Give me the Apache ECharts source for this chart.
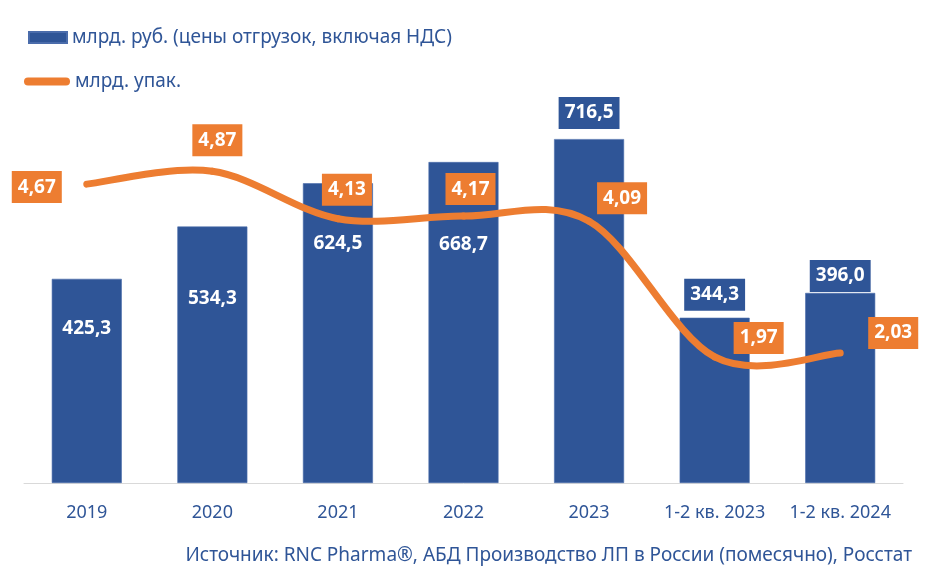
<!DOCTYPE html>
<html><head><meta charset="utf-8">
<script src="https://cdn.jsdelivr.net/npm/echarts@6/dist/echarts.min.js"></script>
<style>html,body{margin:0;padding:0;background:#fff}#c{width:936px;height:584px}</style>
</head><body><div id="c"></div>
<script>
const categories = ['2019','2020','2021','2022','2023','1-2 кв. 2023','1-2 кв. 2024'];
const rubValues = [425.3, 534.3, 624.5, 668.7, 716.5, 344.3, 396.0];
const packValues = [4.67, 4.87, 4.13, 4.17, 4.09, 1.97, 2.03];
const rubName = 'млрд. руб. (цены отгрузок, включая НДС)';
const packName = 'млрд. упак.';
const sourceText = 'Источник: RNC Pharma®, АБД Производство ЛП в России (помесячно), Росстат';

const BLUE = '#2F5597', ORANGE = '#ED7D31';
const FONT = '"Noto Sans", "Open Sans", sans-serif';
const fmt = v => v.toFixed(1).replace('.', ',');
const fmt2 = v => v.toFixed(2).replace('.', ',');

// label placement (style only)
const barLabelStyle = [
  {inside: true, dy: 50}, {inside: true, dy: 72}, {inside: true, dy: 60}, {inside: true, dy: 83},
  {inside: false, dy: -26}, {inside: false, dy: -23}, {inside: false, dy: -17}
];
const lineLabelOffsets = [[-50,3],[5,-31],[9,-29],[7,-27],[33,-23],[44,-19],[53,-20]];

const barData = rubValues.map((v, i) => {
  const s = barLabelStyle[i];
  return {
    value: v,
    label: {
      show: true,
      position: ['50%', s.dy],
      align: 'center', verticalAlign: 'middle',
      formatter: () => fmt(v),
      color: '#fff', fontSize: 19, fontWeight: 'bold', fontFamily: FONT,
      backgroundColor: s.inside ? 'transparent' : BLUE,
      padding: s.inside ? 0 : [4, 6, 4, 6],
      lineHeight: 24
    }
  };
});
const lineData = packValues.map((v, i) => ({
  value: v,
  label: {
    show: true, position: 'inside', align: 'center', verticalAlign: 'middle',
    offset: lineLabelOffsets[i],
    formatter: () => fmt2(v),
    color: '#fff', fontSize: 19, fontWeight: 'bold', fontFamily: FONT,
    backgroundColor: ORANGE, padding: [4, 6, 4, 6], lineHeight: 24
  }
}));

// Smooth curve (Excel-like Catmull-Rom Bezier) drawn through the chart's own coordinate system
function renderCurve(params, api) {
  const i = params.dataIndex;
  const n = packValues.length;
  if (i >= n - 1) return null;
  const P = k => api.coord([Math.max(0, Math.min(n - 1, k)), packValues[Math.max(0, Math.min(n - 1, k))]]);
  const p0 = P(i - 1), p1 = P(i), p2 = P(i + 1), p3 = P(i + 2);
  const t = 1 / 6;
  return {
    type: 'bezierCurve',
    shape: {
      x1: p1[0], y1: p1[1], x2: p2[0], y2: p2[1],
      cpx1: p1[0] + (p2[0] - p0[0]) * t, cpy1: p1[1] + (p2[1] - p0[1]) * t,
      cpx2: p2[0] - (p3[0] - p1[0]) * t, cpy2: p2[1] - (p3[1] - p1[1]) * t
    },
    style: {stroke: ORANGE, lineWidth: 7, lineCap: 'round', fill: null},
    z2: 10
  };
}

const chart = echarts.init(document.getElementById('c'), null, {renderer: 'canvas'});
chart.setOption({
  animation: false,
  backgroundColor: '#fff',
  textStyle: {fontFamily: FONT},
  legend: [
    {data: [rubName], left: 28, top: 28, padding: 0, icon: 'rect', itemWidth: 38, itemHeight: 11,
     textStyle: {color: BLUE, fontSize: 19, fontFamily: FONT}},
    {data: [{name: packName, itemStyle: {color: ORANGE, opacity: 1, borderWidth: 0}}],
     left: 24, top: 72, padding: 0, itemWidth: 46, itemHeight: 8,
     icon: 'path://M4,0 L42,0 A4,4 0 0 1 42,8 L4,8 A4,4 0 0 1 4,0 Z',
     textStyle: {color: BLUE, fontSize: 19, fontFamily: FONT}}
  ],
  grid: {left: 24, right: 33, top: 99, bottom: 101, containLabel: false},
  xAxis: {
    type: 'category', data: categories,
    axisLine: {lineStyle: {color: '#D9D9D9', width: 1}},
    axisTick: {show: false},
    axisLabel: {color: BLUE, fontSize: 18, margin: 21, fontFamily: FONT, interval: 0}
  },
  yAxis: [
    {type: 'value', min: 0, max: 800, show: false, splitLine: {show: false}},
    {type: 'value', min: 0, max: 6, show: false, splitLine: {show: false}}
  ],
  series: [
    {name: rubName, type: 'bar', data: barData, barWidth: 70, yAxisIndex: 0,
     itemStyle: {color: BLUE, borderColor: '#4A6CAB', borderWidth: 0.6}},
    {name: 'curve', type: 'custom', yAxisIndex: 1, data: packValues.map((v, i) => [i, v]),
     renderItem: renderCurve, z: 4, silent: true,
     encode: {x: 0, y: 1}},
    {name: packName, type: 'line', data: lineData, yAxisIndex: 1,
     symbol: 'circle', symbolSize: 1, itemStyle: {color: ORANGE},
     lineStyle: {color: 'rgba(0,0,0,0)', width: 0}, z: 6}
  ],
  graphic: [
    {type: 'text', right: 24, top: 546,
     style: {text: sourceText, fill: BLUE, fontSize: 19, fontFamily: FONT}}
  ]
});
</script></body></html>
